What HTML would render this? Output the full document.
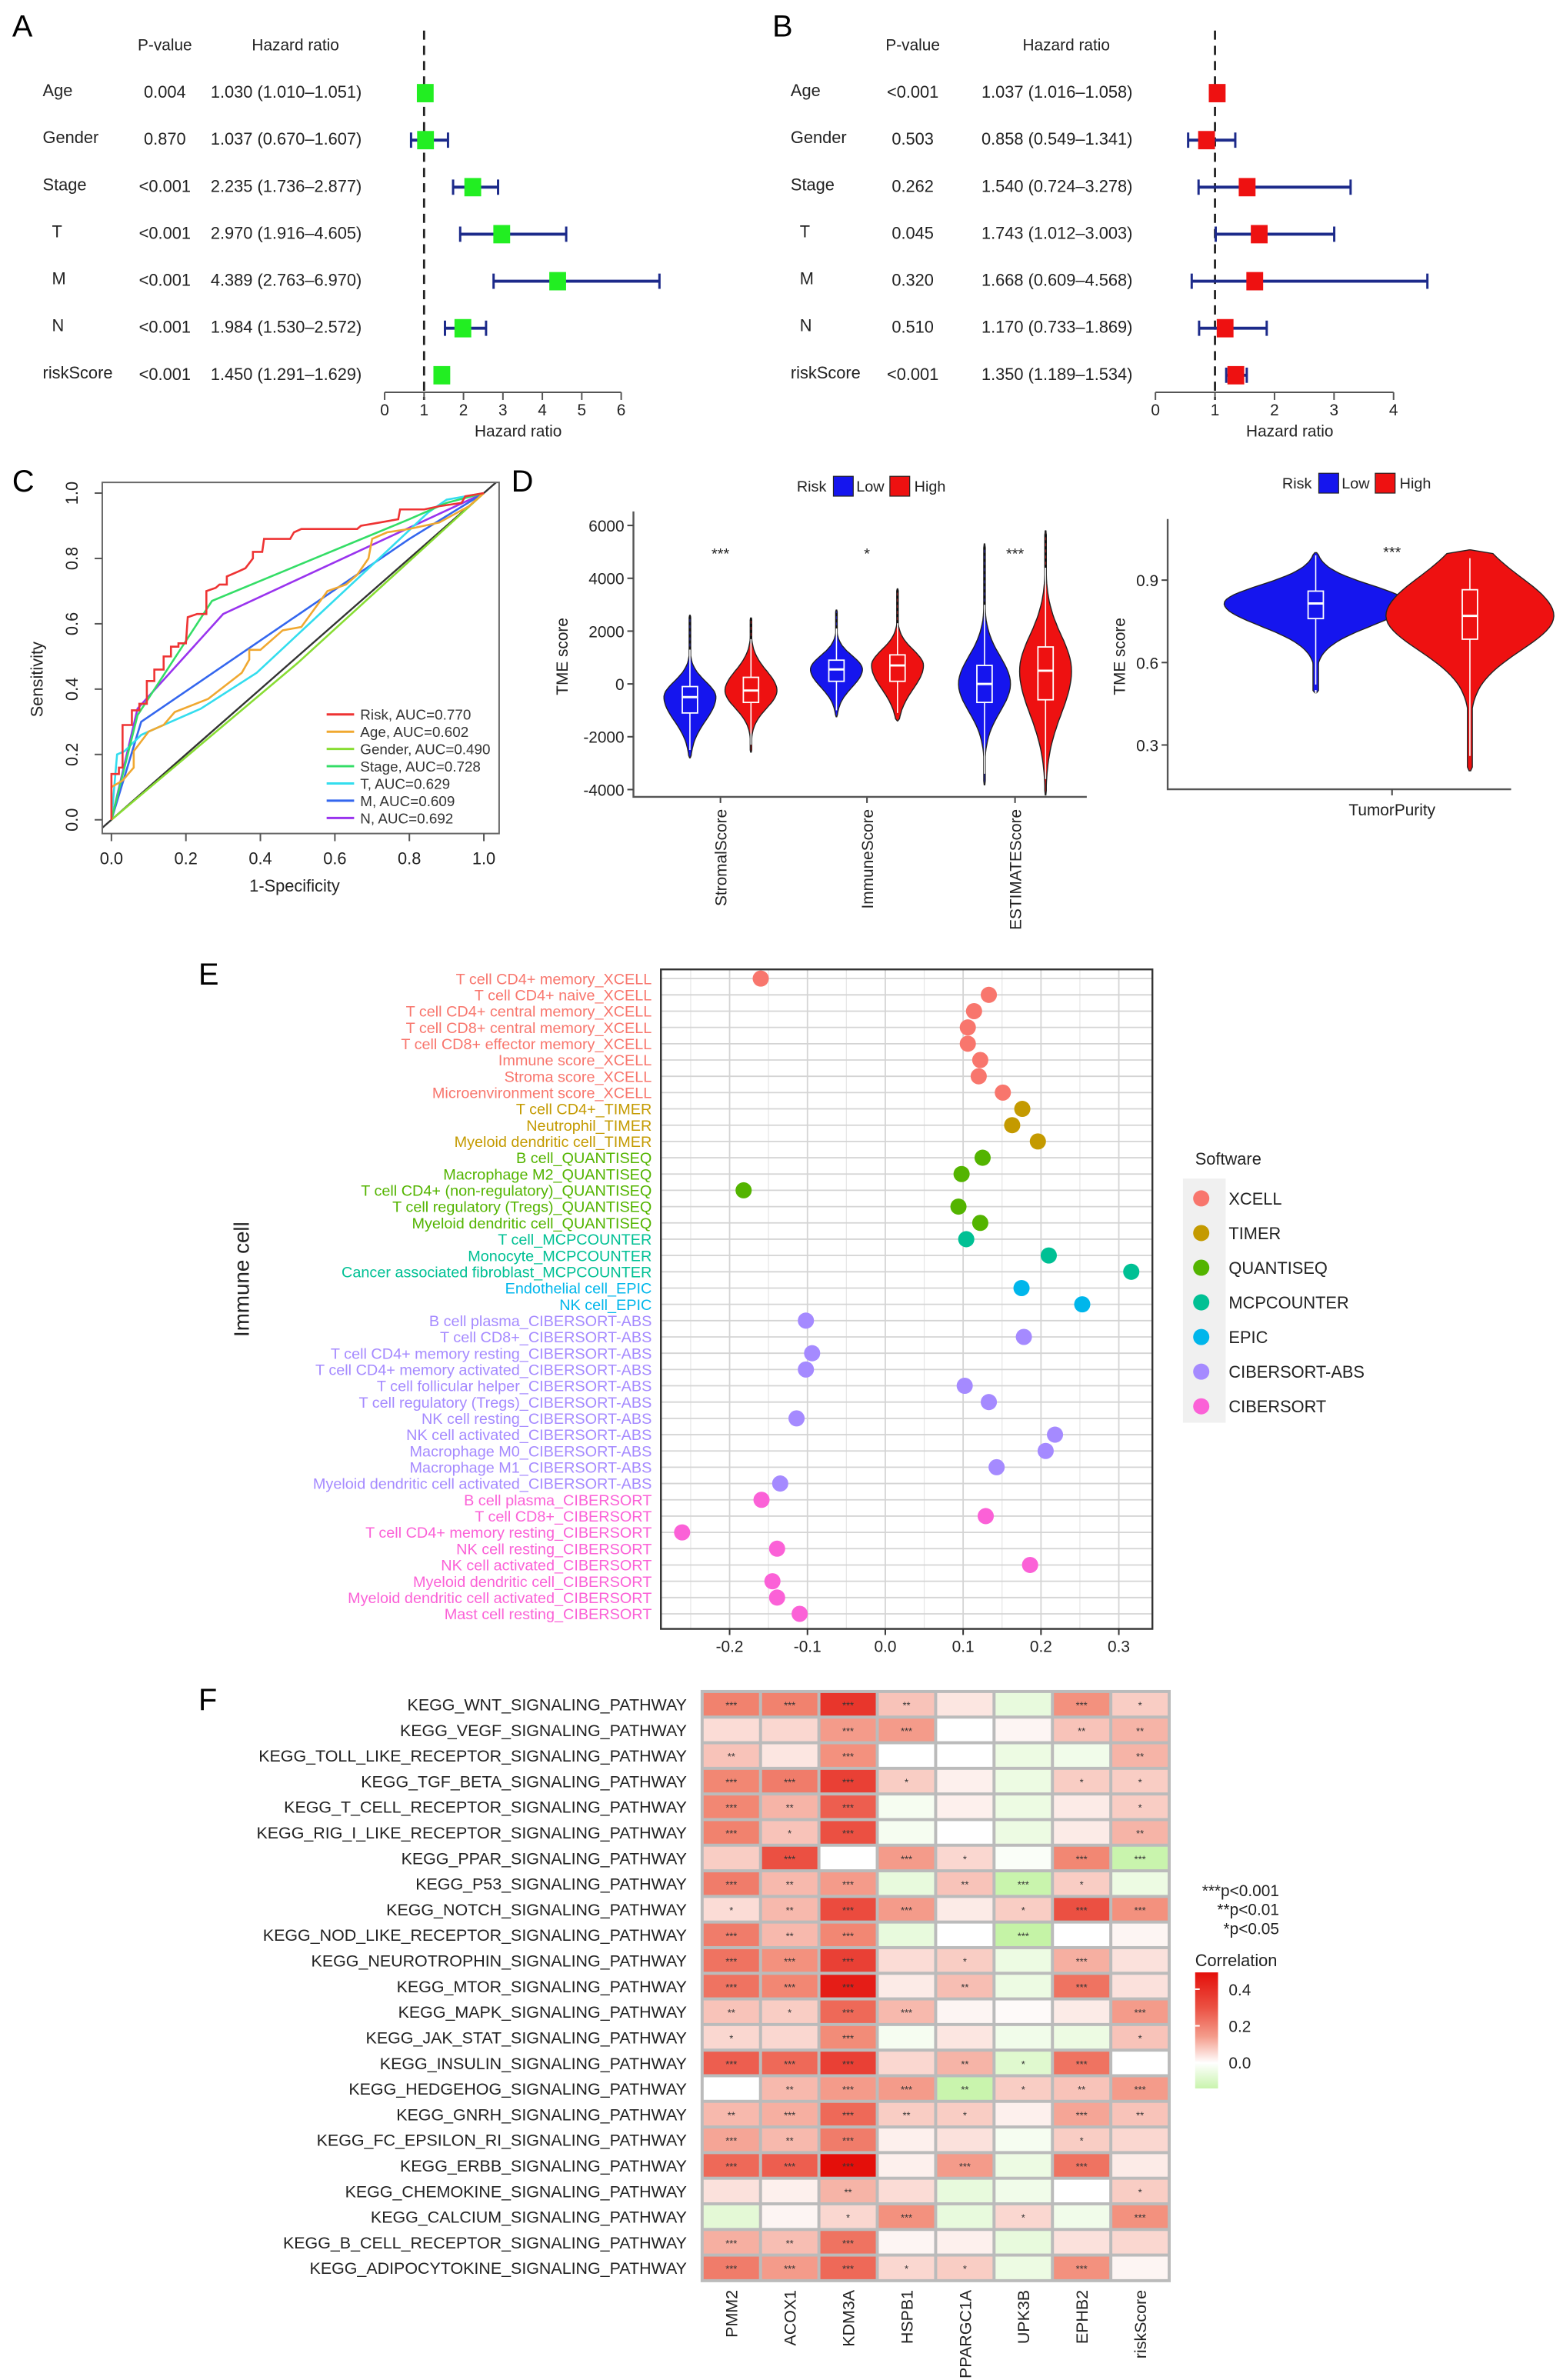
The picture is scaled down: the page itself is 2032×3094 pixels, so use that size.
<!DOCTYPE html>
<html><head><meta charset="utf-8">
<style>
html,body{margin:0;padding:0;background:#fff;}
svg{display:block;font-family:"Liberation Sans",Arial,sans-serif;}
</style></head>
<body>
<svg id="fig" xmlns="http://www.w3.org/2000/svg" width="2032" height="3094" viewBox="0 0 1024 1559" preserveAspectRatio="none">
<rect x="0" y="0" width="1024" height="1559" fill="#fff"/>
</svg>
<script>
// ---------- DATA ----------
// Panel A
const aVars=["Age","Gender","Stage","T","M","N","riskScore"];
const aP=["0.004","0.870","<0.001","<0.001","<0.001","<0.001","<0.001"];
const aHR=[1.030,1.037,2.235,2.970,4.389,1.984,1.450];
const aLo=[1.010,0.670,1.736,1.916,2.763,1.530,1.291];
const aHi=[1.051,1.607,2.877,4.605,6.970,2.572,1.629];
const aTicks=[0,1,2,3,4,5,6];
// Panel B
const bP=["<0.001","0.503","0.262","0.045","0.320","0.510","<0.001"];
const bHR=[1.037,0.858,1.540,1.743,1.668,1.170,1.350];
const bLo=[1.016,0.549,0.724,1.012,0.609,0.733,1.189];
const bHi=[1.058,1.341,3.278,3.003,4.568,1.869,1.534];
const bTicks=[0,1,2,3,4];
// Panel C ROC
const rocNames=["Risk, AUC=0.770","Age, AUC=0.602","Gender, AUC=0.490","Stage, AUC=0.728","T, AUC=0.629","M, AUC=0.609","N, AUC=0.692"];
const rocColors=["#ee3333","#f0a830","#88dd33","#33dd66","#33ddee","#3366ee","#9933ee"];
const rocRisk=[[0,0],[0,0.14],[0.02,0.14],[0.02,0.16],[0.03,0.16],[0.03,0.29],[0.055,0.29],[0.055,0.335],[0.075,0.335],[0.075,0.355],[0.095,0.355],[0.095,0.425],[0.115,0.425],[0.115,0.46],[0.14,0.46],[0.14,0.5],[0.16,0.5],[0.16,0.53],[0.18,0.53],[0.18,0.54],[0.2,0.54],[0.205,0.62],[0.23,0.63],[0.255,0.63],[0.255,0.7],[0.28,0.71],[0.29,0.72],[0.31,0.72],[0.31,0.745],[0.34,0.76],[0.36,0.77],[0.38,0.8],[0.38,0.82],[0.405,0.82],[0.41,0.86],[0.48,0.86],[0.49,0.88],[0.51,0.89],[0.66,0.89],[0.67,0.9],[0.72,0.91],[0.77,0.92],[0.775,0.95],[0.84,0.95],[0.88,0.96],[0.94,0.97],[0.95,0.99],[1,1]];
const rocAge=[[0,0],[0,0.1],[0.03,0.12],[0.06,0.16],[0.06,0.21],[0.1,0.27],[0.14,0.29],[0.17,0.33],[0.26,0.37],[0.35,0.45],[0.37,0.49],[0.37,0.52],[0.4,0.52],[0.46,0.58],[0.51,0.59],[0.58,0.7],[0.63,0.72],[0.66,0.75],[0.69,0.8],[0.7,0.86],[0.74,0.88],[0.8,0.89],[0.88,0.91],[0.96,0.96],[1,1]];
const rocGender=[[0,0],[0.5,0.48],[1,1]];
const rocStage=[[0,0],[0.07,0.32],[0.27,0.67],[0.8,0.92],[0.9,0.97],[1,1]];
const rocT=[[0,0],[0.015,0.2],[0.035,0.21],[0.08,0.26],[0.14,0.29],[0.24,0.34],[0.39,0.45],[0.55,0.62],[0.7,0.78],[0.85,0.94],[0.9,0.98],[1,1]];
const rocM=[[0,0],[0.08,0.3],[0.8,0.86],[1,1]];
const rocN=[[0,0],[0.07,0.34],[0.3,0.63],[1,1]];
const rocTicks=[0,0.2,0.4,0.6,0.8,1.0];
// Panel D (min,q1,med,q3,max)
const tmeCats=["StromalScore","ImmuneScore","ESTIMATEScore"];
const tmeSig=["***","*","***"];
const tmeLow=[[-2500,-1100,-500,-100,1300],[-1000,100,550,900,2100],[-3400,-700,0,700,3000]];
const tmeHigh=[[-2300,-700,-250,250,1700],[-1100,100,700,1100,2300],[-3600,-600,500,1400,4400]];
const tmeLowMax=[2600,2800,5300];
const tmeHighMax=[2500,3600,5800];
const tmeTicks=[6000,4000,2000,0,-2000,-4000];
const purLow=[0.52,0.76,0.815,0.86,0.99];
const purHigh=[0.26,0.685,0.77,0.865,0.98];
const purTicks=[0.9,0.6,0.3];
// Panel E
const cells=["T cell CD4+ memory_XCELL","T cell CD4+ naive_XCELL","T cell CD4+ central memory_XCELL","T cell CD8+ central memory_XCELL","T cell CD8+ effector memory_XCELL","Immune score_XCELL","Stroma score_XCELL","Microenvironment score_XCELL","T cell CD4+_TIMER","Neutrophil_TIMER","Myeloid dendritic cell_TIMER","B cell_QUANTISEQ","Macrophage M2_QUANTISEQ","T cell CD4+ (non-regulatory)_QUANTISEQ","T cell regulatory (Tregs)_QUANTISEQ","Myeloid dendritic cell_QUANTISEQ","T cell_MCPCOUNTER","Monocyte_MCPCOUNTER","Cancer associated fibroblast_MCPCOUNTER","Endothelial cell_EPIC","NK cell_EPIC","B cell plasma_CIBERSORT-ABS","T cell CD8+_CIBERSORT-ABS","T cell CD4+ memory resting_CIBERSORT-ABS","T cell CD4+ memory activated_CIBERSORT-ABS","T cell follicular helper_CIBERSORT-ABS","T cell regulatory (Tregs)_CIBERSORT-ABS","NK cell resting_CIBERSORT-ABS","NK cell activated_CIBERSORT-ABS","Macrophage M0_CIBERSORT-ABS","Macrophage M1_CIBERSORT-ABS","Myeloid dendritic cell activated_CIBERSORT-ABS","B cell plasma_CIBERSORT","T cell CD8+_CIBERSORT","T cell CD4+ memory resting_CIBERSORT","NK cell resting_CIBERSORT","NK cell activated_CIBERSORT","Myeloid dendritic cell_CIBERSORT","Myeloid dendritic cell activated_CIBERSORT","Mast cell resting_CIBERSORT"];
const cellSoft=[0,0,0,0,0,0,0,0,1,1,1,2,2,2,2,2,3,3,3,4,4,5,5,5,5,5,5,5,5,5,5,5,6,6,6,6,6,6,6,6];
const cellCor=[-0.16,0.133,0.114,0.106,0.106,0.122,0.12,0.151,0.176,0.163,0.196,0.125,0.098,-0.182,0.094,0.122,0.104,0.21,0.316,0.175,0.253,-0.102,0.178,-0.094,-0.102,0.102,0.133,-0.114,0.218,0.206,0.143,-0.135,-0.159,0.129,-0.261,-0.139,0.186,-0.145,-0.139,-0.11];
const softNames=["XCELL","TIMER","QUANTISEQ","MCPCOUNTER","EPIC","CIBERSORT-ABS","CIBERSORT"];
const softColors=["#F8766D","#C49A00","#53B400","#00C094","#00B6EB","#A58AFF","#FB61D7"];
const eTicks=[-0.2,-0.1,0.0,0.1,0.2,0.3];
// Panel F
const paths=["KEGG_WNT_SIGNALING_PATHWAY","KEGG_VEGF_SIGNALING_PATHWAY","KEGG_TOLL_LIKE_RECEPTOR_SIGNALING_PATHWAY","KEGG_TGF_BETA_SIGNALING_PATHWAY","KEGG_T_CELL_RECEPTOR_SIGNALING_PATHWAY","KEGG_RIG_I_LIKE_RECEPTOR_SIGNALING_PATHWAY","KEGG_PPAR_SIGNALING_PATHWAY","KEGG_P53_SIGNALING_PATHWAY","KEGG_NOTCH_SIGNALING_PATHWAY","KEGG_NOD_LIKE_RECEPTOR_SIGNALING_PATHWAY","KEGG_NEUROTROPHIN_SIGNALING_PATHWAY","KEGG_MTOR_SIGNALING_PATHWAY","KEGG_MAPK_SIGNALING_PATHWAY","KEGG_JAK_STAT_SIGNALING_PATHWAY","KEGG_INSULIN_SIGNALING_PATHWAY","KEGG_HEDGEHOG_SIGNALING_PATHWAY","KEGG_GNRH_SIGNALING_PATHWAY","KEGG_FC_EPSILON_RI_SIGNALING_PATHWAY","KEGG_ERBB_SIGNALING_PATHWAY","KEGG_CHEMOKINE_SIGNALING_PATHWAY","KEGG_CALCIUM_SIGNALING_PATHWAY","KEGG_B_CELL_RECEPTOR_SIGNALING_PATHWAY","KEGG_ADIPOCYTOKINE_SIGNALING_PATHWAY"];
const genes=["PMM2","ACOX1","KDM3A","HSPB1","PPARGC1A","UPK3B","EPHB2","riskScore"];
const corVals=[
[.25,.25,.4,.12,.05,-.05,.22,.1],
[.07,.08,.2,.2,0,.02,.12,.15],
[.12,.05,.22,0,0,-.04,-.03,.15],
[.24,.26,.38,.1,.03,-.04,.1,.1],
[.24,.15,.32,-.02,.03,-.04,.04,.1],
[.25,.12,.35,-.02,0,-.04,.04,.15],
[.1,.35,0,.2,.08,-.01,.24,-.12],
[.26,.14,.2,-.05,.12,-.12,.1,-.04],
[.07,.14,.36,.2,.04,.1,.35,.22],
[.26,.14,.24,-.05,0,-.13,0,.02],
[.28,.22,.38,.07,.1,-.04,.16,.06],
[.28,.24,.45,.04,.13,-.04,.28,.06],
[.12,.1,.3,.14,.02,.01,.04,.2],
[.08,.08,.23,-.02,.05,-.03,-.04,.12],
[.32,.3,.38,.08,.15,-.07,.28,0],
[0,.14,.2,.2,-.12,.1,.12,.2],
[.14,.16,.3,.1,.1,.03,.18,.12],
[.18,.14,.26,.03,.06,-.02,.1,.08],
[.3,.32,.48,.03,.2,-.04,.28,.04],
[.06,.03,.15,.07,-.05,-.03,0,.1],
[-.06,.02,.08,.22,-.05,.08,-.03,.22],
[.16,.13,.28,.02,.03,-.05,.06,.08],
[.26,.2,.3,.08,.1,-.04,.22,.02]];
const corStars=[
["***","***","***","**","","","***","*"],
["","","***","***","","","**","**"],
["**","","***","","","","","**"],
["***","***","***","*","","","*","*"],
["***","**","***","","","","","*"],
["***","*","***","","","","","**"],
["","***","","***","*","","***","***"],
["***","**","***","","**","***","*",""],
["*","**","***","***","","*","***","***"],
["***","**","***","","","***","",""],
["***","***","***","","*","","***",""],
["***","***","***","","**","","***",""],
["**","*","***","***","","","","***"],
["*","","***","","","","","*"],
["***","***","***","","**","*","***",""],
["","**","***","***","**","*","**","***"],
["**","***","***","**","*","","***","**"],
["***","**","***","","","","*",""],
["***","***","***","","***","","***",""],
["","","**","","","","","*"],
["","","*","***","","*","","***"],
["***","**","***","","","","",""],
["***","***","***","*","*","","***",""]];
const cbTicks=[0.4,0.2,0.0];

// ---------- HELPERS ----------
const NS="http://www.w3.org/2000/svg";
const svg=document.getElementById("fig");
function mk(tag,attrs,parent,text){
  const e=document.createElementNS(NS,tag);
  for(const k in attrs) e.setAttribute(k,attrs[k]);
  if(text!==undefined) e.textContent=text;
  (parent||svg).appendChild(e);
  return e;
}
let el;

// ---------- PANEL A & B (forest) ----------
function forest(off,xs,vals,lo,hi,pv,ticks,color,px,hrx,labx,tag){
  const g=mk("g",{});
  
  
  el=mk("text",{x:px,y:33,"font-size":10.5,"text-anchor":"middle",fill:"#222"},g,"P-value");
  
  
  el=mk("text",{x:hrx+27,y:33,"font-size":10.5,"text-anchor":"start",fill:"#222"},g,"Hazard ratio");
  
  
  el=mk("line",{x1:xs(1),x2:xs(1),y1:20,y2:262,stroke:"#222","stroke-width":1.4,"stroke-dasharray":"6,4"},g);
  
  
  for(let i=0;i<aVars.length;i++){
    const y=60+i*30.8;
    el=mk("text",{x:labx+(aVars[i].length===1?6:0),y:y+3,"font-size":11,fill:"#222"},g,aVars[i]);
    
    
    el=mk("text",{x:px,y:y+4,"font-size":11,"text-anchor":"middle",fill:"#222"},g,pv[i]);
    
    
    el=mk("text",{x:hrx,y:y+4,"font-size":11,fill:"#222"},g,vals[i].toFixed(3)+" ("+lo[i].toFixed(3)+"\u2013"+hi[i].toFixed(3)+")");
    
    
    el=mk("line",{x1:xs(lo[i]),x2:xs(hi[i]),y1:y+1,y2:y+1,stroke:"#1c2a8a","stroke-width":2},g);
    
    
    el=mk("line",{x1:xs(lo[i]),x2:xs(lo[i]),y1:y-4,y2:y+6,stroke:"#1c2a8a","stroke-width":1.5},g);
    
    
    el=mk("line",{x1:xs(hi[i]),x2:xs(hi[i]),y1:y-4,y2:y+6,stroke:"#1c2a8a","stroke-width":1.5},g);
    
    
    el=mk("rect",{x:xs(vals[i])-5.5,y:y-5,width:11,height:12,fill:color},g);
    
    
  }
  const ay=257;
  el=mk("line",{x1:xs(ticks[0]),x2:xs(ticks[ticks.length-1]),y1:ay,y2:ay,stroke:"#555","stroke-width":1},g);
  
  
  ticks.forEach(t=>{
    el=mk("line",{x1:xs(t),x2:xs(t),y1:ay,y2:ay+5,stroke:"#555"},g);
    
    
    el=mk("text",{x:xs(t),y:ay+15,"font-size":10.5,"text-anchor":"middle",fill:"#222"},g,String(t));
    
    
  });
  el=mk("text",{x:(xs(ticks[0])+xs(ticks[ticks.length-1]))/2+10,y:ay+29,"font-size":10.5,"text-anchor":"middle",fill:"#222"},g,"Hazard ratio");
  
  
}
forest(0,v=>252+v*25.83,aHR,aLo,aHi,aP,aTicks,"#22ee22",108,138,28,"a");
forest(0,v=>757+v*39,bHR,bLo,bHi,bP,bTicks,"#ee1111",598,643,518,"b");

function panelLabel(t,x,y){
  el=mk("text",{x:x,y:y,"font-size":20,fill:"#000"},svg,t);
  
  
}
panelLabel("A",8,24);panelLabel("B",506,24);panelLabel("C",8,322);panelLabel("D",335,322);panelLabel("E",130,645);panelLabel("F",130,1120);

// ---------- PANEL C (ROC) ----------
{
  const cx=v=>73+v*244, cy=v=>537-v*214;
  const g=mk("g",{});
  
  
  mk("clipPath",{id:"rocclip"},g);
  mk("rect",{x:67,y:316,width:260,height:230},document.getElementById("rocclip"));
  el=mk("line",{x1:cx(-0.03),y1:cy(-0.03),x2:cx(1.05),y2:cy(1.05),stroke:"#333","stroke-width":1.2,"clip-path":"url(#rocclip)"},g);
  
  
  const series=[rocRisk,rocAge,rocGender,rocStage,rocT,rocM,rocN];
  for(let s=series.length-1;s>=0;s--){
    const d=series[s].map((p,i)=>(i?"L":"M")+cx(p[0]).toFixed(1)+","+cy(p[1]).toFixed(1)).join("");
    el=mk("path",{d:d,fill:"none",stroke:rocColors[s],"stroke-width":1.3},g);
    
    
  }
  el=mk("rect",{x:67,y:316,width:260,height:230,fill:"none",stroke:"#666","stroke-width":1},g);
  
  
  rocTicks.forEach(t=>{
    el=mk("line",{x1:cx(t),x2:cx(t),y1:546,y2:551,stroke:"#555"},g);
    
    
    el=mk("text",{x:cx(t),y:566,"font-size":11,"text-anchor":"middle",fill:"#222"},g,t.toFixed(1));
    
    
    el=mk("line",{x1:62,x2:67,y1:cy(t),y2:cy(t),stroke:"#555"},g);
    
    
    el=mk("text",{x:51,y:cy(t),"font-size":11,"text-anchor":"middle",fill:"#222",transform:"rotate(-90 51 "+cy(t)+")"},g,t.toFixed(1));
    
    
  });
  el=mk("text",{x:193,y:584,"font-size":11,"text-anchor":"middle",fill:"#222"},g,"1-Specificity");
  
  
  el=mk("text",{x:28,y:445,"font-size":11,"text-anchor":"middle",fill:"#222",transform:"rotate(-90 28 445)"},g,"Sensitivity");
  
  
  rocNames.forEach((n,i)=>{
    const y=468+i*11.3;
    el=mk("line",{x1:214,x2:232,y1:y,y2:y,stroke:rocColors[i],"stroke-width":1.5},g);
    
    
    el=mk("text",{x:236,y:y+3.5,"font-size":9.5,fill:"#333"},g,n);
    
    
  });
}

// ---------- PANEL D (violins) ----------
function violin(g,cxp,ys,q,vmax,halfW,col,name){
  const [mn,q1,md,q3,mx]=q;
  const sl=(md-q1)/0.674, sr=(q3-md)/0.674;
  const lowEnd=mn-(q3-q1)*0.3, hiEnd=vmax;
  const N=60, pts=[];
  for(let k=0;k<=N;k++){
    const v=lowEnd+(hiEnd-lowEnd)*k/N;
    const s=v<md?sl:sr;
    let f=Math.exp(-0.5*((v-md)/s)**2);
    f=Math.max(f,0.03);
    if(k===0||k===N) f=0.01;
    pts.push([v,f]);
  }
  let d="";
  pts.forEach((p,i)=>{d+=(i?"L":"M")+(cxp-halfW*p[1]).toFixed(1)+","+ys(p[0]).toFixed(1);});
  for(let i=pts.length-1;i>=0;i--){d+="L"+(cxp+halfW*pts[i][1]).toFixed(1)+","+ys(pts[i][0]).toFixed(1);}
  d+="Z";
  let e=mk("path",{d:d,fill:col,stroke:"#222","stroke-width":0.7},g);
  
  
  e=mk("line",{x1:cxp,x2:cxp,y1:ys(mn),y2:ys(mx),stroke:"#fff","stroke-width":0.8},g);
  
  
  e=mk("rect",{x:cxp-5,y:ys(q3),width:10,height:ys(q1)-ys(q3),fill:col,stroke:"#fff","stroke-width":0.9},g);
  
  
  e=mk("line",{x1:cxp-5,x2:cxp+5,y1:ys(md),y2:ys(md),stroke:"#fff","stroke-width":1.5},g);
  
  
}
function riskLegend(g,x,y){
  let e=mk("text",{x:x,y:y+4,"font-size":10,fill:"#222"},g,"Risk");
  
  
  e=mk("rect",{x:x+24,y:y-6,width:13,height:13,fill:"#1515ee",stroke:"#222","stroke-width":0.6},g);
  
  
  e=mk("text",{x:x+39,y:y+4,"font-size":10,fill:"#222"},g,"Low");
  
  
  e=mk("rect",{x:x+61,y:y-6,width:13,height:13,fill:"#ee1111",stroke:"#222","stroke-width":0.6},g);
  
  
  e=mk("text",{x:x+77,y:y+4,"font-size":10,fill:"#222"},g,"High");
  
  
}
{
  const g=mk("g",{});
  
  
  const ys=v=>448-v*0.0173;
  riskLegend(g,522,318);
  const centers=[472,568,665];
  tmeCats.forEach((c,i)=>{
    violin(g,centers[i]-20,ys,[tmeLow[i][0],tmeLow[i][1],tmeLow[i][2],tmeLow[i][3],tmeLow[i][4]],tmeLowMax[i],17,"#1515ee","low-"+c);
    violin(g,centers[i]+20,ys,[tmeHigh[i][0],tmeHigh[i][1],tmeHigh[i][2],tmeHigh[i][3],tmeHigh[i][4]],tmeHighMax[i],17,"#ee1111","high-"+c);
    el=mk("line",{x1:centers[i]-20,x2:centers[i]-20,y1:ys(tmeLow[i][4]),y2:ys(tmeLowMax[i]),stroke:"#111","stroke-width":1.4,"stroke-dasharray":"2,2"},g);
    
    
    el=mk("line",{x1:centers[i]+20,x2:centers[i]+20,y1:ys(tmeHigh[i][4]),y2:ys(tmeHighMax[i]),stroke:"#111","stroke-width":1.4,"stroke-dasharray":"2,2"},g);
    
    
    el=mk("text",{x:centers[i],y:366,"font-size":10,"text-anchor":"middle",fill:"#222"},g,tmeSig[i]);
    
    
    el=mk("line",{x1:centers[i],x2:centers[i],y1:522,y2:526,stroke:"#444"},g);
    
    
    el=mk("text",{x:centers[i]+4,y:530,"font-size":10.5,"text-anchor":"end",fill:"#222",transform:"rotate(-90 "+(centers[i]+4)+" 530)"},g,c);
    
    
  });
  el=mk("path",{d:"M415,335V522H712",fill:"none",stroke:"#555","stroke-width":1.2},g);
  
  
  tmeTicks.forEach(t=>{
    el=mk("line",{x1:411,x2:415,y1:ys(t),y2:ys(t),stroke:"#444"},g);
    
    
    el=mk("text",{x:409,y:ys(t)+4,"font-size":10.5,"text-anchor":"end",fill:"#222"},g,String(t));
    
    
  });
  el=mk("text",{x:372,y:430,"font-size":10.5,"text-anchor":"middle",fill:"#222",transform:"rotate(-90 372 430)"},g,"TME score");
  
  

  // Tumor purity
  const g2=mk("g",{});
  
  
  const ys2=v=>380+(0.9-v)*180;
  riskLegend(g2,840,316);
  violin(g2,862,ys2,purLow,1.0,60,"#1515ee","low-purity");
  violin(g2,963,ys2,purHigh,1.01,55,"#ee1111","high-purity");
  el=mk("line",{x1:862,x2:862,y1:ys2(0.5),y2:ys2(0.24),stroke:"#fff","stroke-width":1,"stroke-dasharray":"2,3"},g2);
  
  
  el=mk("text",{x:912,y:365,"font-size":10,"text-anchor":"middle",fill:"#222"},g2,"***");
  
  
  el=mk("path",{d:"M765,340V517H990",fill:"none",stroke:"#555","stroke-width":1.2},g2);
  
  
  purTicks.forEach(t=>{
    el=mk("line",{x1:761,x2:765,y1:ys2(t),y2:ys2(t),stroke:"#444"},g2);
    
    
    el=mk("text",{x:759,y:ys2(t)+4,"font-size":10.5,"text-anchor":"end",fill:"#222"},g2,t.toFixed(1));
    
    
  });
  el=mk("line",{x1:912,x2:912,y1:517,y2:521,stroke:"#444"},g2);
  
  
  el=mk("text",{x:912,y:534,"font-size":10.5,"text-anchor":"middle",fill:"#222"},g2,"TumorPurity");
  
  
  el=mk("text",{x:737,y:430,"font-size":10.5,"text-anchor":"middle",fill:"#222",transform:"rotate(-90 737 430)"},g2,"TME score");
  
  
}

// ---------- PANEL E (dot plot) ----------
{
  const g=mk("g",{});
  
  
  const ex=v=>580+v*510, ey=i=>641+i*10.67;
  const L=433,R=755,T=635,B=1067;
  [-0.25,-0.15,-0.05,0.05,0.15,0.25].forEach(t=>{
    el=mk("line",{x1:ex(t),x2:ex(t),y1:T,y2:B,stroke:"#e6e6e6","stroke-width":0.6},g);
    
    
  });
  eTicks.forEach(t=>{
    el=mk("line",{x1:ex(t),x2:ex(t),y1:T,y2:B,stroke:"#d4d4d4","stroke-width":0.9},g);
    
    
  });
  cells.forEach((c,i)=>{
    el=mk("line",{x1:L,x2:R,y1:ey(i),y2:ey(i),stroke:"#d4d4d4","stroke-width":0.9},g);
    
    
  });
  cells.forEach((c,i)=>{
    el=mk("circle",{cx:ex(cellCor[i]),cy:ey(i),r:5.3,fill:softColors[cellSoft[i]]},g);
    
    
    el=mk("text",{x:427,y:ey(i)+3.6,"font-size":10,"text-anchor":"end",fill:softColors[cellSoft[i]]},g,c);
    
    
  });
  el=mk("rect",{x:L,y:T,width:R-L,height:B-T,fill:"none",stroke:"#333","stroke-width":1.2},g);
  
  
  eTicks.forEach(t=>{
    el=mk("line",{x1:ex(t),x2:ex(t),y1:B,y2:B+4,stroke:"#333"},g);
    
    
    el=mk("text",{x:ex(t),y:B+15,"font-size":10.5,"text-anchor":"middle",fill:"#222"},g,t.toFixed(1));
    
    
  });
  el=mk("text",{x:163,y:838,"font-size":14,"text-anchor":"middle",fill:"#222",transform:"rotate(-90 163 838)"},g,"Immune cell");
  
  
  el=mk("text",{x:783,y:763,"font-size":11,fill:"#222"},g,"Software");
  
  
  el=mk("rect",{x:775,y:772,width:28,height:160,fill:"#f0f0f0"},g);
  
  
  softNames.forEach((n,i)=>{
    const y=785+i*22.7;
    el=mk("circle",{cx:787,cy:y,r:5.3,fill:softColors[i]},g);
    
    
    el=mk("text",{x:805,y:y+4,"font-size":11,fill:"#222"},g,n);
    
    
  });
}

// ---------- PANEL F (heatmap) ----------
{
  const g=mk("g",{});
  
  
  const x0=460,cw=38.25,y0=1108,rh=16.78;
  function colr(v){
    if(v>=0){
      const t=Math.min(v/0.48,1);
      // white -> salmon -> red
      let r,gg,b;
      if(t<0.5){const u=t/0.5;r=255-u*13;gg=255-u*120;b=255-u*140;}
      else{const u=(t-0.5)/0.5;r=242-u*14;gg=135-u*120;b=115-u*105;}
      return `rgb(${r|0},${gg|0},${b|0})`;
    }else{
      const t=Math.min(-v/0.14,1);
      return `rgb(${(255-t*62)|0},${(255-t*12)|0},${(255-t*95)|0})`;
    }
  }
  el=mk("rect",{x:x0-1,y:y0-1,width:cw*8+2,height:rh*23+2,fill:"#bbb"},g);
  
  
  paths.forEach((p,i)=>{
    genes.forEach((gn,j)=>{
      el=mk("rect",{x:x0+j*cw+1,y:y0+i*rh+1,width:cw-2,height:rh-2,fill:colr(corVals[i][j])},g);
      
      
      if(corStars[i][j]){
        el=mk("text",{x:x0+j*cw+cw/2,y:y0+i*rh+rh/2+3,"font-size":6.5,"text-anchor":"middle",fill:"#333"},g,corStars[i][j]);
        
        
      }
    });
    el=mk("text",{x:450,y:y0+i*rh+rh/2+4,"font-size":10.8,"text-anchor":"end",fill:"#222"},g,p);
    
    
  });
  genes.forEach((gn,j)=>{
    const cx=x0+j*cw+cw/2+4;
    el=mk("text",{x:cx,y:1500,"font-size":10.8,"text-anchor":"end",fill:"#222",transform:"rotate(-90 "+cx+" 1500)"},g,gn);
    
    
  });
  ["***p<0.001","**p<0.01","*p<0.05"].forEach((t,i)=>{
    el=mk("text",{x:838,y:1242+i*12.5,"font-size":10.5,"text-anchor":"end",fill:"#222"},g,t);
    
    
  });
  el=mk("text",{x:783,y:1288,"font-size":11,fill:"#222"},g,"Correlation");
  
  
  const defs=mk("defs",{},g);
  const lg=mk("linearGradient",{id:"cbg",x1:0,y1:0,x2:0,y2:1},defs);
  [[0,0.5],[0.3,0.35],[0.55,0.2],[0.78,0],[1,-0.12]].forEach(s=>{mk("stop",{offset:s[0],"stop-color":colr(s[1])},lg);});
  el=mk("rect",{x:783,y:1292,width:15,height:76,fill:"url(#cbg)"},g);
  
  
  cbTicks.forEach(t=>{
    const y=1351-t*120;
    el=mk("text",{x:805,y:y+4,"font-size":10.5,fill:"#222"},g,t.toFixed(1));
    
    
    el=mk("line",{x1:783,x2:786,y1:y,y2:y,stroke:"#fff"},g);
    
    
  });
}
</script>
</body></html>
